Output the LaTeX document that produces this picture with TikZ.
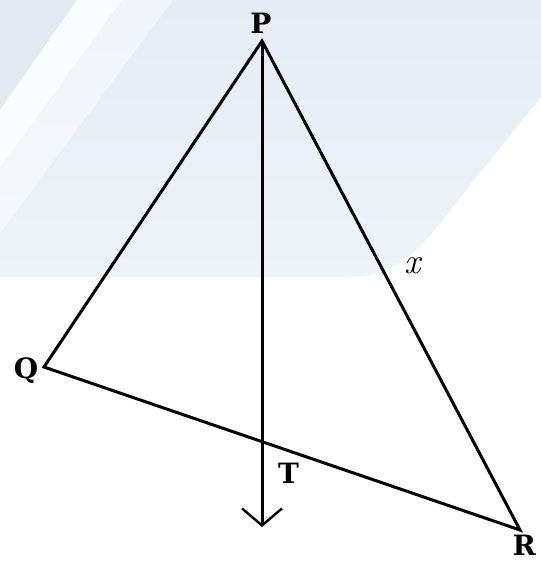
\documentclass[tikz,border=0pt]{standalone}
\usepackage{fontspec}
\newfontfamily\lblfont{DejaVu Serif}
\usetikzlibrary{arrows.meta}
\definecolor{bgcorner}{HTML}{E3E9F0}
\definecolor{bgtop}{HTML}{E6ECF4}
\definecolor{bgbot}{HTML}{EEF3F9}
\tikzset{
  edge/.style={line width=3pt, line join=miter},
  lbl/.style={font=\fontsize{28}{34}\selectfont\lblfont\bfseries, inner sep=0pt, anchor=base},
  vlbl/.style={font=\fontsize{36}{40}\selectfont\itshape, inner sep=0pt, anchor=base},
}
\begin{document}
\begin{tikzpicture}[x=1pt,y=-1pt]
\useasboundingbox (0,0) rectangle (541,563);
% background watermark
\fill[white] (0,0) rectangle (541,563);
\shade[top color=bgtop, bottom color=bgbot]
  (0,0) -- (541,0) -- (541,97) -- (470,185)
  .. controls (420,250) and (400,277) .. (350,277) -- (0,277) -- cycle;
\fill[bgcorner] (0,0) -- (77,0) -- (0,110) -- cycle;
\fill[white, opacity=0.85] (77,0) -- (122,0) -- (0,168) -- (0,110) -- cycle;
\fill[white, opacity=0.45] (122,0) -- (173,0) -- (0,233) -- (0,168) -- cycle;
% points
\coordinate (P) at (262,41);
\coordinate (Q) at (44,367);
\coordinate (R) at (520,530);
\coordinate (T) at (262,441.6);
\coordinate (A) at (262,527);
% figure
\draw[edge] (P) -- (Q) -- (R) -- cycle;
\draw[edge, -{Straight Barb[length=17pt,width=40pt,line width=2.4pt]}] (P) -- (T) -- (A);
% labels
\node[lbl] (lP) at (261,33) {P};
\node[lbl] (lQ) at (26,378) {Q};
\node[lbl] (lT) at (288.5,483) {T};
\node[lbl, anchor=base east] (lR) at (536,555) {R};
\node[vlbl] (lx) at (413,273) {x};
\end{tikzpicture}
\end{document}
